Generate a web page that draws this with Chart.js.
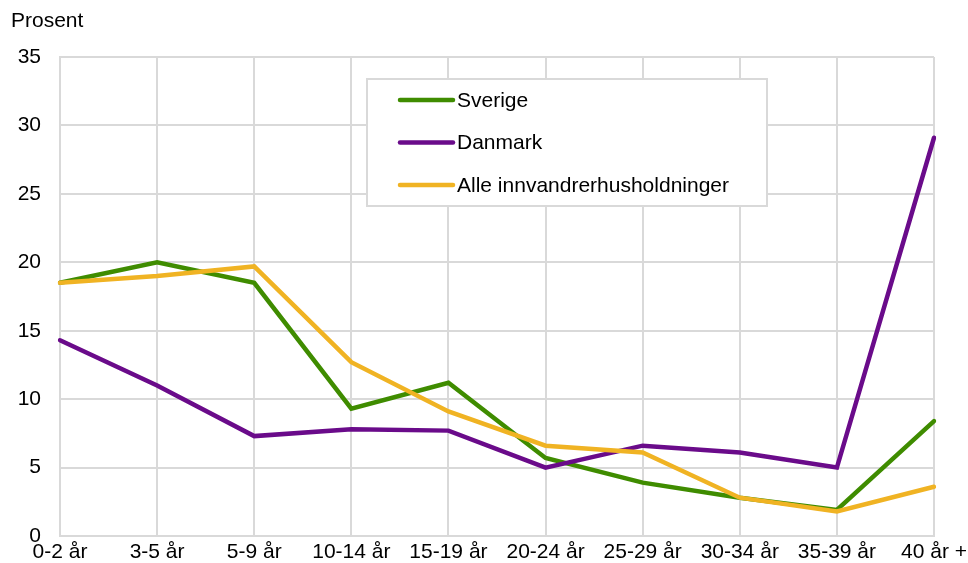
<!DOCTYPE html>
<html>
<head>
<meta charset="utf-8">
<script src="https://cdn.jsdelivr.net/npm/chart.js@4/dist/chart.umd.min.js"></script>
<style>
  html, body { margin: 0; padding: 0; background: #ffffff; }
  #wrap { width: 968px; height: 563px; position: relative; }
</style>
</head>
<body>
<div id="wrap"><canvas id="c"></canvas></div>
<script>
const categories = ['0-2 år', '3-5 år', '5-9 år', '10-14 år', '15-19 år', '20-24 år', '25-29 år', '30-34 år', '35-39 år', '40 år +'];
const sverige = [18.5, 20.0, 18.5, 9.3, 11.2, 5.7, 3.9, 2.8, 1.9, 8.4];
const danmark = [14.3, 11.0, 7.3, 7.8, 7.7, 5.0, 6.6, 6.1, 5.0, 29.1];
const alle = [18.5, 19.0, 19.7, 12.7, 9.1, 6.6, 6.1, 2.8, 1.8, 3.6];
const seriesNames = ['Sverige', 'Danmark', 'Alle innvandrerhusholdninger'];
const yTicks = [0, 5, 10, 15, 20, 25, 30, 35];
const unitLabel = 'Prosent';

const FONT = "'Liberation Sans', Arial, sans-serif";
const colors = ['#3f8c00', '#6a0b8a', '#f0b323'];
const gridColor = '#d9d9d9';

const unitPlugin = {
  id: 'unitLabel',
  afterDraw(chart) {
    const ctx = chart.ctx;
    ctx.save();
    ctx.font = '21px ' + FONT;
    ctx.fillStyle = '#000';
    ctx.textBaseline = 'middle';
    ctx.textAlign = 'left';
    ctx.fillText(unitLabel, 11, 21);
    ctx.restore();
  }
};

const boxLegend = {
  id: 'boxLegend',
  afterDraw(chart) {
    const ctx = chart.ctx;
    const a = chart.chartArea;
    const x0 = a.left + 307, y0 = a.top + 22, w = 400, h = 127;
    ctx.save();
    ctx.fillStyle = '#ffffff';
    ctx.fillRect(x0, y0, w, h);
    ctx.strokeStyle = gridColor;
    ctx.lineWidth = 2;
    ctx.strokeRect(x0, y0, w, h);
    ctx.font = '21px ' + FONT;
    ctx.textBaseline = 'middle';
    ctx.textAlign = 'left';
    chart.data.datasets.forEach((ds, i) => {
      const cy = y0 + 21 + i * 42.5;
      ctx.strokeStyle = ds.borderColor;
      ctx.lineWidth = 4.5;
      ctx.lineCap = 'round';
      ctx.beginPath();
      ctx.moveTo(x0 + 33, cy);
      ctx.lineTo(x0 + 86, cy);
      ctx.stroke();
      ctx.fillStyle = '#000';
      ctx.fillText(ds.label, x0 + 90, cy + 1);
    });
    ctx.restore();
  }
};

const mk = (i, data, order) => ({
  label: seriesNames[i],
  data: data,
  borderColor: colors[i],
  backgroundColor: colors[i],
  borderWidth: 4.5,
  pointRadius: 0,
  pointHoverRadius: 0,
  tension: 0,
  fill: false,
  borderCapStyle: 'round',
  borderJoinStyle: 'miter',
  order: order
});

new Chart(document.getElementById('c'), {
  type: 'line',
  data: {
    labels: categories,
    datasets: [mk(0, sverige, 3), mk(1, danmark, 2), mk(2, alle, 1)]
  },
  options: {
    responsive: true,
    maintainAspectRatio: false,
    animation: false,
    layout: { padding: { top: 57, left: 0, right: 0, bottom: 0 } },
    plugins: {
      legend: { display: false },
      tooltip: { enabled: false },
      title: { display: false }
    },
    scales: {
      x: {
        offset: false,
        afterFit(scale) { scale.height = 27; scale.paddingRight = 34; scale.paddingLeft = 0; },
        grid: { color: gridColor, lineWidth: 2, drawTicks: false },
        border: { color: gridColor, width: 2 },
        ticks: {
          color: '#000',
          font: { family: FONT, size: 21, lineHeight: 1.0 },
          padding: 6,
          maxRotation: 0,
          autoSkip: false
        }
      },
      y: {
        min: 0,
        max: 35,
        afterBuildTicks(scale) { scale.ticks = yTicks.map(v => ({ value: v })); },
        afterFit(scale) { scale.width = 60; scale.paddingTop = 0; scale.paddingBottom = 0; },
        grid: { color: gridColor, lineWidth: 2, drawTicks: false },
        border: { color: gridColor, width: 2 },
        ticks: {
          color: '#000',
          font: { family: FONT, size: 21 },
          padding: 19
        }
      }
    }
  },
  plugins: [unitPlugin, boxLegend]
});
</script>
</body>
</html>
